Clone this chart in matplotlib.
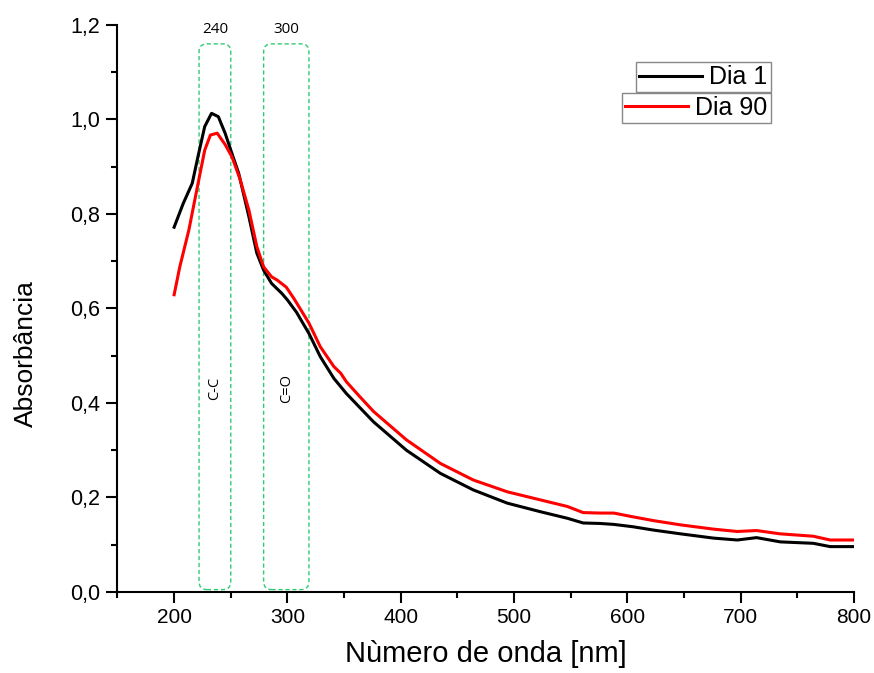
import matplotlib
matplotlib.use('Agg')
import matplotlib.pyplot as plt
from matplotlib.patches import FancyBboxPatch
from matplotlib.ticker import MultipleLocator, FuncFormatter

PLOT_OUT = 'out.png'

# Dia 1 (black)
wl_dia1 = [200, 208, 216, 221, 227, 233, 239, 245, 252, 257, 266, 273, 279, 286,
           295, 300, 308, 319, 329, 341, 352, 364, 376, 405, 435, 464, 494, 523,
           547, 561, 576, 588, 605, 623, 647, 676, 697, 714, 735, 764, 779, 800]
abs_dia1 = [0.772, 0.822, 0.865, 0.921, 0.985, 1.013, 1.006, 0.971, 0.921, 0.886,
            0.794, 0.717, 0.681, 0.653, 0.632, 0.618, 0.592, 0.547, 0.498, 0.452,
            0.420, 0.390, 0.360, 0.300, 0.251, 0.216, 0.188, 0.170, 0.156, 0.146,
            0.145, 0.143, 0.138, 0.131, 0.123, 0.114, 0.110, 0.115, 0.106, 0.103,
            0.096, 0.096]

# Dia 90 (red)
wl_dia90 = [200, 205, 213, 220, 227, 232, 238, 245, 251, 258, 266, 273, 279, 286,
            291, 299, 306, 319, 329, 341, 347, 352, 364, 376, 405, 435, 464, 494,
            523, 547, 561, 576, 588, 605, 623, 647, 676, 697, 714, 735, 764, 779, 800]
abs_dia90 = [0.629, 0.688, 0.766, 0.851, 0.935, 0.967, 0.971, 0.947, 0.921, 0.875,
             0.808, 0.731, 0.688, 0.667, 0.660, 0.645, 0.620, 0.569, 0.519, 0.477,
             0.463, 0.445, 0.413, 0.382, 0.322, 0.272, 0.237, 0.212, 0.195, 0.181,
             0.168, 0.167, 0.167, 0.159, 0.151, 0.142, 0.133, 0.128, 0.130, 0.123,
             0.118, 0.110, 0.110]

# band regions
band_left = [222, 279]
band_right = [250, 319]
band_peak = ['240', '300']
band_name = ['C-C', 'C=O']

plt.rcParams['font.family'] = ['Liberation Sans', 'DejaVu Sans']

fig = plt.figure(figsize=(8.74, 6.73), dpi=100)
ax = fig.add_axes([0.1344, 0.1204, 0.8427, 0.8425])

l1, = ax.plot(wl_dia1, abs_dia1, color='black', lw=2.2, label='Dia 1', zorder=3)
l2, = ax.plot(wl_dia90, abs_dia90, color='red', lw=2.2, label='Dia 90', zorder=4)

ax.set_xlim(150, 800)
ax.set_ylim(0, 1.2)

green = '#2ecc71'
for left, right, peak, name in zip(band_left, band_right, band_peak, band_name):
    box = FancyBboxPatch((left, 0.005), right - left, 1.155,
                         boxstyle='round,pad=0,rounding_size=7',
                         mutation_aspect=0.0024, fill=False, ec=green,
                         lw=1.0, ls=(0, (3, 2)), zorder=2)
    ax.add_patch(box)
    mid = (left + right) / 2
    ax.text(mid, 1.19, peak, ha='center', va='center', fontsize=11,
            family='Open Sans', clip_on=False)
    ax.text(mid, 0.43, name, ha='center', va='center', fontsize=10.5,
            family='Open Sans', rotation=90)

for s in ['top', 'right']:
    ax.spines[s].set_visible(False)
for s in ['left', 'bottom']:
    ax.spines[s].set_linewidth(1.5)

ax.xaxis.set_major_locator(MultipleLocator(100))
ax.xaxis.set_minor_locator(MultipleLocator(50))
ax.yaxis.set_major_locator(MultipleLocator(0.2))
ax.yaxis.set_minor_locator(MultipleLocator(0.1))
ax.yaxis.set_major_formatter(FuncFormatter(lambda v, p: f"{v:.1f}".replace('.', ',')))

ax.tick_params(axis='y', which='major', direction='out', length=8, width=1.5, pad=4.5, labelsize=15.5)
ax.tick_params(axis='y', which='minor', direction='out', length=4, width=1.5)
ax.tick_params(axis='x', which='major', direction='out', length=8, width=1.5, pad=3.5, labelsize=15)
ax.tick_params(axis='x', which='minor', direction='out', length=4.5, width=1.5)

ax.set_xlabel('Nùmero de onda [nm]', fontsize=21)
ax.set_ylabel('Absorbância', fontsize=19)
ax.xaxis.set_label_coords(0.5, -0.085)
ax.yaxis.set_label_coords(-0.108, 0.42)

leg_kw = dict(loc='upper right', bbox_transform=fig.transFigure, borderaxespad=0,
              fontsize=18, fancybox=False, edgecolor='#888888', framealpha=1,
              borderpad=0.12, handlelength=2.5, handletextpad=0.3)
leg1 = ax.legend(handles=[l1], bbox_to_anchor=(0.8818, 0.9074), **leg_kw)
leg1.get_frame().set_linewidth(1.0)
ax.add_artist(leg1)
leg2 = ax.legend(handles=[l2], bbox_to_anchor=(0.8818, 0.8623), **leg_kw)
leg2.get_frame().set_linewidth(1.0)

fig.savefig(PLOT_OUT, dpi=100)
